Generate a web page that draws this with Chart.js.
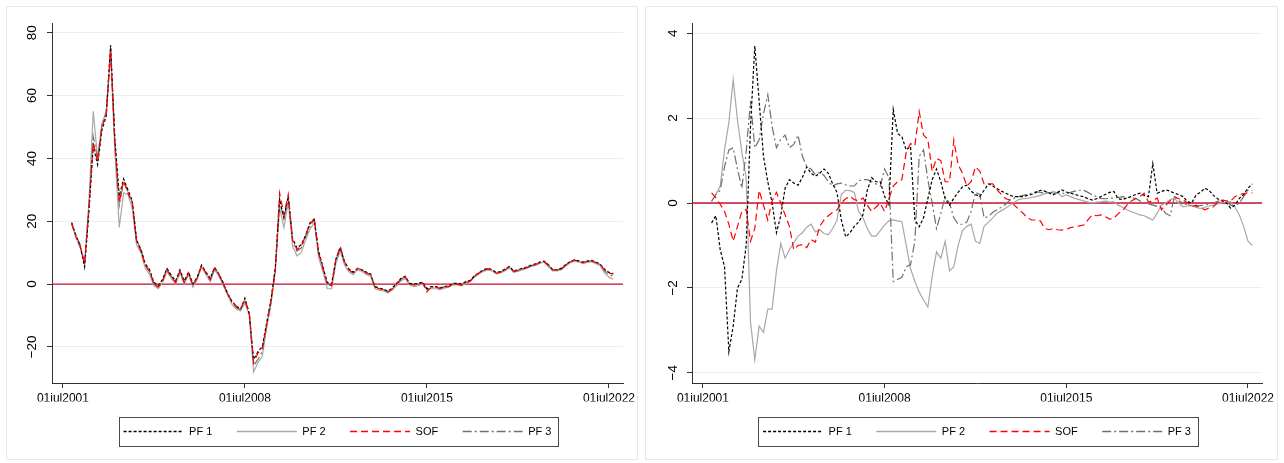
<!DOCTYPE html>
<html>
<head>
<meta charset="utf-8">
<script src="https://cdn.jsdelivr.net/npm/chart.js@4.4.1/dist/chart.umd.min.js"></script>
<style>
  body { margin: 0; background: #fff; width: 1284px; height: 463px; position: relative; overflow: hidden; }
  .panel { position: absolute; top: 6px; height: 452px; border: 1px solid #e3e9ec; background: #fff; }
  #p1 { left: 6px; width: 630px; }
  #p2 { left: 645px; width: 631px; }
  canvas { display: block; }
</style>
</head>
<body>
<div class="panel" id="p1"><canvas id="leftChart" width="630" height="452"></canvas></div>
<div class="panel" id="p2"><canvas id="rightChart" width="631" height="452"></canvas></div>
<script>
// observations every 2 months from Nov 2001
const firstObs = 2001 + 10 / 12;
const obsStep = 2 / 12;
const nObs = 126;
const dates = Array.from({ length: nObs }, (_, k) => firstObs + k * obsStep);

const seriesNames = ["PF 1", "PF 2", "SOF", "PF 3"];
const xTickValues = [2001.5, 2008.5, 2015.5, 2022.5];
const xTickLabels = ["01jul2001", "01jul2008", "01jul2015", "01jul2022"];
const leftYTicks = [-20, 0, 20, 40, 60, 80];
const rightYTicks = [-4, -2, 0, 2, 4];

// left panel
const pf1Left = [19.5, 15.5, 12, 5.5, 23, 44, 38, 49, 53.5, 76,
  46, 28, 33.5, 30, 26.5, 14, 11, 6.5, 4.5, 0.5,
  -0.5, 1.5, 5, 2.8, 1, 4.5, 1, 3.8, 0, 2.2,
  6, 3.8, 1.8, 5.3, 3.2, 0.3, -3, -5.5, -7.2, -8,
  -4.5, -9.5, -24, -21.5, -20, -12.5, -5, 5, 27, 21,
  28, 14.5, 11.5, 12.5, 15.5, 19.5, 20.5, 10.5, 5.5, 0.5,
  0, 8, 11.5, 7, 4.8, 3.8, 5, 4.5, 3.8, 3.2,
  -0.8, -1.3, -1.6, -2.3, -1.3, 0.2, 1.8, 2.5, 0.2, 0,
  0.2, 0.6, -1.5, -0.8, -0.8, -1.2, -0.8, -0.6, 0.2, 0.2,
  0, 0.8, 1.2, 2.7, 3.6, 4.5, 5, 4.6, 3.7, 4,
  4.8, 5.6, 4.2, 4.5, 5, 5.4, 6, 6.4, 7, 7.3,
  6.2, 4.6, 4.6, 5, 6.2, 7.1, 7.7, 7.4, 7, 7.3,
  7.5, 7, 6.3, 4.7, 3.7, 3.3];
const pf2Left = [19, 15, 11.5, 6.5, 26, 55, 40, 51, 55, 73,
  42, 18, 29, 28.5, 24, 12.5, 10, 5, 3, -0.5,
  -1.5, 0.5, 4, 1.8, 0, 3.5, 0, 3, -1, 1.5,
  5.5, 3, 0.8, 4.5, 2.5, -0.5, -3.5, -6.5, -8, -8.5,
  -6, -10, -28, -25, -23, -14, -6.5, 4, 24, 18,
  26, 12, 9, 10, 14, 17.5, 19.5, 8.5, 4, -1.5,
  -1.5, 6.5, 10.5, 6, 3.8, 3, 4.5, 4, 3, 2.5,
  -1.5, -2, -2.2, -2.8, -2, -0.5, 1, 1.8, -0.3, -0.8,
  -0.5, 0, -1.5, -1.5, -1.5, -1.8, -1.3, -1, -0.3, -0.3,
  -0.6, 0.2, 0.7, 2.2, 3.2, 4, 4.5, 4.2, 3.2, 3.5,
  4.2, 5.2, 3.7, 4, 4.5, 5, 5.5, 5.9, 6.5, 7,
  5.6, 4.2, 4.2, 4.5, 5.7, 6.7, 7.3, 7, 6.5, 6.9,
  7.1, 6.5, 5.8, 3.5, 2.2, 1.5];
const sofLeft = [19.5, 15, 12, 6.5, 24, 45, 39, 50, 54, 74.5,
  44, 26, 33, 29, 26, 13.5, 10.5, 6, 4, 0,
  -1, 1, 4.5, 2.3, 0.5, 4, 0.5, 3.5, -0.5, 2,
  6, 3.5, 1.3, 5, 3, 0, -3, -5.5, -7, -7.8,
  -5, -9, -25, -22, -20.5, -13, -5.5, 4, 29, 22,
  28.5, 14, 11, 12, 15.5, 19, 21, 10, 5, 0,
  -0.5, 8, 12, 7, 4.5, 3.5, 5, 4.5, 3.5, 3,
  -1, -1.5, -1.8, -2.5, -1.5, 0, 1.5, 2.3, 0, -0.3,
  0, 0.4, -2.5, -1, -1, -1.4, -1, -0.8, 0, 0,
  -0.3, 0.5, 1, 2.5, 3.5, 4.3, 4.8, 4.5, 3.5, 3.8,
  4.5, 5.5, 4, 4.3, 4.8, 5.2, 5.8, 6.2, 6.8, 7.2,
  6, 4.5, 4.5, 4.8, 6, 7, 7.6, 7.3, 6.8, 7.2,
  7.4, 6.8, 6.2, 4.5, 3.5, 3.2];
const pf3Left = [19.5, 15.5, 12.5, 6, 25, 47, 40, 50.5, 54.5, 75.5,
  45, 25, 32.5, 29.5, 26, 14, 11, 6, 4, 0,
  -1, 1, 4.8, 2.5, 0.5, 4.2, 0.5, 3.6, -0.3, 2,
  6, 3.6, 1.5, 5.2, 3, 0, -3.2, -5.8, -7.4, -8.2,
  -5.5, -9.5, -26, -24, -21.5, -13.5, -6, 5, 26, 21,
  27.5, 13.5, 10.5, 11.5, 15, 18.5, 20.5, 9.5, 5, 0,
  -0.5, 7.5, 11.5, 6.8, 4.5, 3.5, 5, 4.5, 3.5, 3,
  -1, -1.5, -1.8, -2.5, -1.5, 0, 1.5, 2.3, 0, -0.3,
  0, 0.4, -1.8, -1, -1, -1.4, -1, -0.8, 0, 0,
  -0.3, 0.5, 1, 2.5, 3.5, 4.3, 4.8, 4.5, 3.5, 3.8,
  4.5, 5.5, 4, 4.3, 4.8, 5.2, 5.8, 6.2, 6.8, 7.2,
  6, 4.5, 4.5, 4.8, 6, 7, 7.6, 7.3, 6.8, 7.2,
  7.4, 6.8, 6.2, 4.2, 3, 2.5];

// right panel
const pf1Right = [-0.47, -0.3, -1.1, -1.5, -3.5, -2.9, -2.0, -1.8, -1.0, 1.8,
  3.7, 2.4, 1.1, 0.5, 0.0, -0.7, -0.3, 0.35, 0.55, 0.47,
  0.42, 0.6, 0.85, 0.7, 0.63, 0.7, 0.8, 0.7, 0.45, 0.25,
  -0.4, -0.8, -0.7, -0.55, -0.45, -0.28, 0.3, 0.6, 0.5, 0.5,
  0.15, -0.04, 2.2, 1.64, 1.56, 1.25, 1.33, -0.4, -0.56, -0.35,
  0.1, 0.55, 0.8, 0.5, 0.1, -0.05, 0.11, 0.25, 0.38, 0.42,
  0.28, 0.2, 0.15, 0.3, 0.45, 0.4, 0.34, 0.28, 0.23, 0.18,
  0.15, 0.15, 0.15, 0.18, 0.2, 0.25, 0.3, 0.28, 0.24, 0.19,
  0.25, 0.31, 0.26, 0.23, 0.2, 0.17, 0.15, 0.1, 0.07, 0.1,
  0.15, 0.2, 0.25, 0.27, 0.1, 0.08, 0.12, 0.15, 0.2, 0.23,
  0.18, 0.15, 0.93, 0.23, 0.27, 0.31, 0.28, 0.23, 0.2, 0.15,
  0.03, 0.0, 0.19, 0.25, 0.35, 0.3, 0.18, 0.1, 0.05, 0.0,
  -0.12, -0.05, 0.11, 0.2, 0.35, 0.45];
const pf2Right = [0.04, 0.2, 0.4, 1.25, 1.9, 2.9, 1.95, 1.2, 0.6, -2.8,
  -3.7, -2.9, -3.05, -2.5, -2.5, -1.6, -0.95, -1.3, -1.1, -0.94,
  -0.78, -0.7, -0.57, -0.5, -0.68, -0.63, -0.72, -0.75, -0.6, -0.4,
  0.2, 0.3, 0.29, 0.25, -0.2, -0.35, -0.6, -0.78, -0.78, -0.65,
  -0.52, -0.42, -0.4, -0.42, -0.44, -1.0, -1.55, -1.85, -2.1, -2.28,
  -2.45, -1.73, -1.15, -1.3, -0.9, -1.6, -1.5, -1.0, -0.65, -0.55,
  -0.5, -0.9, -0.95, -0.55, -0.45, -0.35, -0.24, -0.18, -0.12, -0.05,
  0.02, 0.08, 0.1, 0.11, 0.13, 0.15, 0.18, 0.22, 0.23, 0.27,
  0.24, 0.15, 0.19, 0.15, 0.11, 0.08, 0.05, 0.02, 0.0, 0.02,
  0.03, 0.05, 0.02, 0.03, -0.05, -0.1, -0.16, -0.2, -0.24, -0.28,
  -0.3, -0.35, -0.4, -0.24, -0.05, 0.0, 0.08, 0.11, 0.0, -0.09,
  -0.07, -0.05, -0.1, -0.13, -0.1, -0.07, -0.05, -0.02, 0.0, 0.02,
  0.03, -0.1, -0.28, -0.55, -0.9, -1.0];
const sofRight = [0.24, 0.12, -0.03, -0.2, -0.5, -0.9, -0.55, -0.2, -0.15, -0.9,
  -0.6, 0.3, -0.05, -0.4, 0.05, 0.25, 0.0, -0.28, -0.55, -1.1,
  -1.0, -0.98, -1.05, -0.86, -0.92, -0.55, -0.4, -0.3, -0.22, -0.16,
  0.0, 0.1, 0.16, 0.08, 0.05, 0.12, -0.05, -0.2, -0.1, 0.0,
  -0.2, 0.1, 0.4, 0.5, 0.55, 1.2, 1.4, 1.35, 2.15, 1.6,
  1.5, 0.75, 1.05, 1.0, 0.5, 0.5, 1.48, 0.9, 0.7, 0.4,
  0.5, 0.85, 0.75, 0.45, 0.45, 0.45, 0.31, 0.2, 0.1, 0.07,
  -0.05, -0.15, -0.24, -0.35, -0.4, -0.4, -0.42, -0.6, -0.63, -0.6,
  -0.63, -0.64, -0.62, -0.58, -0.56, -0.54, -0.52, -0.4, -0.28, -0.3,
  -0.28, -0.32, -0.38, -0.36, -0.25, -0.18, -0.05, 0.05, 0.1, 0.15,
  0.23, 0.02, 0.05, 0.12, -0.16, -0.05, 0.05, 0.15, 0.1, 0.07,
  0.0, -0.09, -0.05, -0.1, -0.16, -0.12, -0.09, 0.02, 0.07, 0.05,
  0.05, 0.15, 0.2, 0.22, 0.24, 0.24];
const pf3Right = [0.04, 0.2, 0.3, 0.85, 1.25, 1.3, 0.8, 0.35, 1.2, 2.4,
  1.3, 1.49, 2.1, 2.55, 1.8, 1.3, 1.5, 1.6, 1.3, 1.38,
  1.6, 1.1, 0.86, 0.8, 0.67, 0.72, 0.65, 0.5, 0.4, 0.45,
  0.47, 0.43, 0.4, 0.4, 0.52, 0.55, 0.55, 0.5, 0.45, 0.4,
  0.8, 0.6, -1.85, -1.8, -1.75, -1.5, -1.45, -0.9, 1.1, 1.25,
  0.55, 0.0, -0.6, -0.25, 0.15, 0.0, -0.35, -0.5, -0.5, -0.45,
  -0.2, 0.25, 0.2, -0.35, -0.32, -0.22, -0.16, -0.1, -0.03, 0.07,
  0.12, 0.15, 0.18, 0.2, 0.23, 0.27, 0.25, 0.23, 0.27, 0.23,
  0.24, 0.23, 0.22, 0.25, 0.28, 0.3, 0.3, 0.25, 0.19, 0.15,
  0.11, 0.1, 0.11, 0.12, 0.13, 0.15, 0.14, 0.12, 0.11, 0.05,
  0.0, -0.02, -0.05, -0.08, -0.12, -0.25, -0.3, 0.15, 0.05, 0.0,
  -0.05, -0.07, -0.09, -0.06, -0.05, -0.02, 0.0, 0.04, 0.07, 0.05,
  -0.05, -0.08, 0.0, 0.15, 0.3, 0.3];

const lineColors = ["#000000", "#a8a8a8", "#ff0000", "#707070"];
const lineDashes = [[3, 2], [], [7, 4], [9, 3, 2, 3]];
const drawOrder = [2, 4, 1, 3]; // lower number is drawn on top
const zeroColor = "#c8102e";
const fontFamily = '"Liberation Sans", Arial, Helvetica, sans-serif';

Chart.defaults.font.family = fontFamily;
Chart.defaults.color = "#000";

// red reference line at zero
const zeroLine = {
  id: "zeroLine",
  beforeDatasetsDraw(chart) {
    const { ctx, chartArea, scales } = chart;
    const py = scales.y.getPixelForValue(0);
    ctx.save();
    ctx.strokeStyle = zeroColor;
    ctx.lineWidth = 1.3;
    ctx.beginPath();
    ctx.moveTo(chartArea.left, py);
    ctx.lineTo(chartArea.right, py);
    ctx.stroke();
    ctx.restore();
  },
};

// frame round the legend row
const legendFrame = {
  id: "legendFrame",
  afterDraw(chart) {
    const boxes = chart.legend.legendHitBoxes;
    if (!boxes || !boxes.length) return;
    const first = boxes[0];
    const last = boxes[boxes.length - 1];
    const left = Math.round(first.left - 5) + 0.5;
    const right = Math.round(last.left + last.width + 7) + 0.5;
    const top = Math.round(first.top - 9) + 0.5;
    const bottom = Math.round(first.top + first.height + 9) + 0.5;
    const ctx = chart.ctx;
    ctx.save();
    ctx.strokeStyle = "#4a4a4a";
    ctx.lineWidth = 1;
    ctx.strokeRect(left, top, right - left, bottom - top);
    ctx.restore();
  },
};

function yLabel(v) {
  return v < 0 ? "\u2212" + Math.abs(v) : String(v);
}

// y tick labels turned 90 degrees, as Stata prints them
const yTickLabels = {
  id: "yTickLabels",
  afterDraw(chart, args, opts) {
    const y = chart.scales.y;
    const ctx = chart.ctx;
    ctx.save();
    ctx.fillStyle = "#000";
    ctx.font = "13.5px " + fontFamily;
    ctx.textAlign = "center";
    ctx.textBaseline = "middle";
    y.ticks.forEach(function (t) {
      const py = y.getPixelForValue(t.value);
      ctx.save();
      ctx.translate(opts.x, py);
      ctx.rotate(-Math.PI / 2);
      ctx.fillText(yLabel(t.value), 0, 0);
      ctx.restore();
    });
    ctx.restore();
  },
};

function buildChart(canvasId, series, yTicks, yMin, yMax, labelX, padLeft, padRight) {
  const datasets = seriesNames.map(function (name, i) {
    return {
      label: name,
      data: dates.map((d, j) => ({ x: d, y: series[i][j] })),
      borderColor: lineColors[i],
      backgroundColor: lineColors[i],
      borderDash: lineDashes[i],
      borderWidth: 1.2,
      pointRadius: 0,
      fill: false,
      tension: 0,
      order: drawOrder[i],
    };
  });

  return new Chart(document.getElementById(canvasId), {
    type: "line",
    data: { datasets: datasets },
    options: {
      responsive: false,
      animation: false,
      events: [],
      layout: {
        autoPadding: false,
        padding: { left: padLeft, right: padRight, top: 16, bottom: 12 },
      },
      plugins: {
        tooltip: { enabled: false },
        yTickLabels: { x: labelX },
        legend: {
          position: "bottom",
          labels: {
            usePointStyle: true,
            pointStyleWidth: 60,
            padding: 24.5,
            color: "#000",
            font: { size: 11 },
            generateLabels: function (chart) {
              return chart.data.datasets.map(function (ds, i) {
                return {
                  text: ds.label,
                  datasetIndex: i,
                  pointStyle: "line",
                  strokeStyle: lineColors[i],
                  fillStyle: lineColors[i],
                  lineDash: lineDashes[i],
                  lineWidth: 1.4,
                  fontColor: "#000",
                  hidden: false,
                };
              });
            },
          },
        },
      },
      scales: {
        x: {
          type: "linear",
          min: 2001.08,
          max: 2023.04,
          afterBuildTicks: function (scale) {
            scale.ticks = xTickValues.map((v) => ({ value: v }));
          },
          afterFit: function (scale) {
            scale.height = 18.5;
            scale.paddingLeft = 0;
            scale.paddingRight = 0;
          },
          ticks: {
            autoSkip: false,
            maxRotation: 0,
            padding: 3,
            color: "#000",
            font: { size: 12 },
            callback: (v, i) => xTickLabels[i],
          },
          grid: { drawOnChartArea: false, tickLength: 5, tickColor: "#333", color: "#333" },
          border: { color: "#333", width: 1 },
        },
        y: {
          min: yMin,
          max: yMax,
          afterBuildTicks: function (scale) {
            scale.ticks = yTicks.map((v) => ({ value: v }));
          },
          afterFit: function (scale) {
            scale.width = 0;
            scale.paddingTop = 0;
            scale.paddingBottom = 0;
          },
          ticks: { display: false },
          grid: { color: "#e8eff1", tickColor: "#333", tickLength: 5, lineWidth: 1 },
          border: { color: "#333", width: 1 },
        },
      },
    },
    plugins: [zeroLine, legendFrame, yTickLabels],
  });
}

buildChart("leftChart", [pf1Left, pf2Left, sofLeft, pf3Left], leftYTicks, -31.5, 83.1, 25.5, 45, 14);
buildChart("rightChart", [pf1Right, pf2Right, sofRight, pf3Right], rightYTicks, -4.24, 4.24, 27, 46, 15);
</script>
</body>
</html>
